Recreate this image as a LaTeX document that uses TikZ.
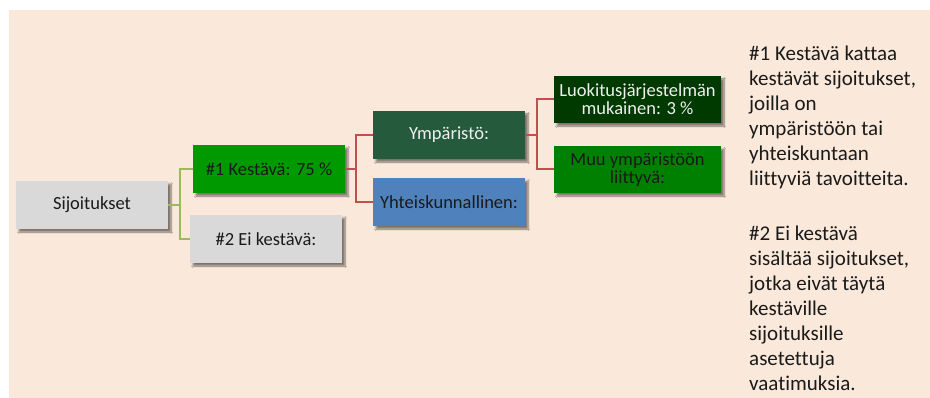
\documentclass[tikz,border=0pt]{standalone}
\usepackage{fontspec}
\setmainfont{Carlito}[Ligatures=NoCommon]
\usetikzlibrary{shadows.blur}
\definecolor{bgc}{HTML}{FAE9DA}
\definecolor{grayb}{HTML}{D9D9D9}
\definecolor{greenA}{HTML}{009900}
\definecolor{greenY}{HTML}{265A3C}
\definecolor{blueY}{HTML}{4F81BD}
\definecolor{greenL}{HTML}{003A00}
\definecolor{greenM}{HTML}{008000}
\definecolor{lineG}{HTML}{9BBB59}
\definecolor{lineR}{HTML}{C0504D}
\definecolor{txtD}{HTML}{1A1A1A}
\tikzset{
  box/.style={rectangle, inner sep=0pt, align=center, text=txtD,
    font=\fontsize{18.5}{18}\selectfont,
    blur shadow={shadow xshift=3pt, shadow yshift=-3pt, shadow blur steps=6, shadow opacity=50}},
  wbox/.style={box, minimum width=152pt, minimum height=48pt},
  nbox/.style={box, minimum width=167pt, minimum height=47pt},
  glink/.style={draw=lineG, line width=2pt},
  rlink/.style={draw=lineR, line width=2pt},
  side/.style={anchor=north west, inner sep=0pt, align=left, text=txtD,
    font=\fontsize{21}{25}\selectfont}
}
\begin{document}
\begin{tikzpicture}[x=1pt, y=-1pt]
\useasboundingbox (0,0) rectangle (930,398);
\fill[bgc] (9,10) rectangle (930,398);

\node[wbox, fill=grayb] (sij) at (92,205) {Sijoitukset};
\node[wbox, fill=greenA] (k1) at (269,169) {\#1 Kestävä: 75 \%};
\node[wbox, fill=grayb] (k2) at (266,239) {\#2 Ei kestävä:};
\node[wbox, fill=greenY, text=white!94!black] (ymp) at (449,135) {Ympäristö:};
\node[wbox, fill=blueY] (yht) at (449,202) {Yhteiskunnallinen:};
\node[nbox, fill=greenL, text=white!94!black] (luok) at (637.5,99.5) {Luokitusjärjestelmän\\mukainen: 3 \%};
\node[nbox, fill=greenM] (muu) at (637.5,169.5) {Muu ympäristöön\\liittyvä:};

\draw[glink] (sij.east) -- ++(12,0) |- (k1.west);
\draw[glink] (sij.east) -- ++(12,0) |- (k2.west);
\draw[rlink] (k1.east) -- ++(11,0) |- (ymp.west);
\draw[rlink] (k1.east) -- ++(11,0) |- (yht.west);
\draw[rlink] (ymp.east) -- ++(12,0) |- (luok.west);
\draw[rlink] (ymp.east) -- ++(12,0) |- (muu.west);

\node[side] (t1) at (749,46) {\#1 Kestävä kattaa\\kestävät sijoitukset,\\joilla on\\ympäristöön tai\\yhteiskuntaan\\liittyviä tavoitteita.};
\node[side] (t2) at (749,225.5) {\#2 Ei kestävä\\sisältää sijoitukset,\\jotka eivät täytä\\kestäville\\sijoituksille\\asetettuja\\vaatimuksia.};
\end{tikzpicture}
\end{document}
